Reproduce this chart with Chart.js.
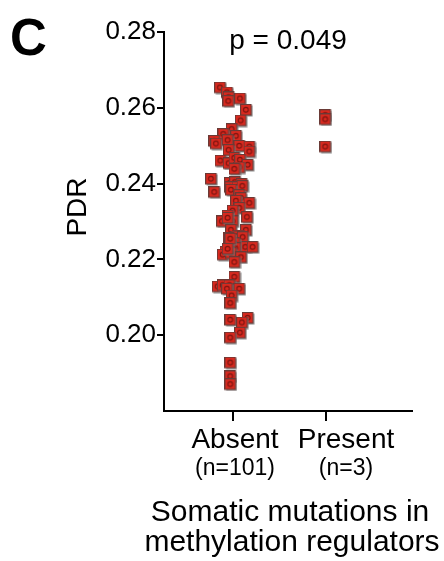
<!DOCTYPE html>
<html><head><meta charset="utf-8">
<script src="https://cdn.jsdelivr.net/npm/chart.js@4.4.1/dist/chart.umd.min.js"></script>
<style>html,body{margin:0;padding:0;background:#fff}#wrap{width:444px;height:561px;position:relative}</style>
</head><body><div id="wrap"><canvas id="c" width="444" height="561"></canvas></div>
<script>
// ---- data ----
const categories = ["Absent", "Present"];
const categoryCounts = ["(n=101)", "(n=3)"];
const yTicks = [0.20, 0.22, 0.24, 0.26, 0.28];
const pValueText = "p = 0.049";
const panelLabel = "C";
const yTitle = "PDR";
const xTitle = ["Somatic mutations in", "methylation regulators"];

const absentPDR = [0.2652,0.2639,0.2626,0.2616,0.2623,0.2593,0.2565,0.2542,0.2529,0.2524,
  0.2511,0.2504,0.2513,0.2498,0.2496,0.2483,0.2487,0.2459,0.2452,0.2466,
  0.2461,0.2448,0.2441,0.2437,0.2411,0.2400,0.2402,0.2397,0.2389,0.2389,
  0.2392,0.2376,0.2382,0.2368,0.2360,0.2353,0.2347,0.2334,0.2327,0.2314,
  0.2310,0.2299,0.2299,0.2308,0.2276,0.2276,0.2261,0.2259,0.2255,0.2257,
  0.2231,0.2231,0.2241,0.2231,0.2228,0.2218,0.2211,0.2215,0.2204,0.2191,
  0.2152,0.2127,0.2130,0.2130,0.2121,0.2121,0.2103,0.2083,0.2039,0.2044,
  0.2032,0.2005,0.1992,0.1926,0.1890,0.1869,0.2253,0.2226];
const absentJitter = [-0.132,-0.057,-0.040,-0.043,0.083,0.147,0.089,-0.008,-0.097,0.040,
  -0.194,-0.175,-0.051,0.075,0.183,0.183,-0.040,-0.129,-0.040,0.022,
  0.083,0.165,0.075,0.022,-0.229,-0.025,0.029,0.100,-0.022,0.054,
  0.108,-0.194,-0.014,0.075,0.094,0.040,0.183,0.075,0.003,-0.051,
  0.158,-0.111,0.003,-0.051,-0.014,0.147,0.068,0.040,-0.040,0.111,
  0.140,0.218,0.022,-0.022,0.032,-0.075,-0.104,-0.014,0.094,0.022,
  0.022,-0.158,-0.104,-0.032,0.075,-0.057,-0.008,-0.022,-0.022,0.165,
  0.104,0.083,-0.022,-0.022,-0.022,-0.022,-0.022,-0.051];
const presentPDR = [0.2579, 0.2568, 0.2496];
const presentJitter = [0, 0, 0];

// ---- build ----
const pts = [];
absentPDR.forEach((v,i)=>pts.push({x:1+absentJitter[i], y:v}));
presentPDR.forEach((v,i)=>pts.push({x:2+presentJitter[i], y:v}));

// marker: red square with gray shadow and small dark ring
function makeMarker() {
  const c = document.createElement('canvas');
  c.width = 13; c.height = 13;
  const g = c.getContext('2d');
  g.fillStyle = 'rgba(120,120,120,0.85)';
  g.fillRect(1.5, 1.5, 11, 11);
  g.fillStyle = '#d8291f';
  g.fillRect(0.5, 0.5, 10.5, 10.5);
  g.strokeStyle = '#6a3a36';
  g.lineWidth = 1;
  g.strokeRect(0.5, 0.5, 10.5, 10.5);
  g.beginPath();
  g.arc(5.75, 5.75, 2.4, 0, Math.PI*2);
  g.strokeStyle = '#7a1510';
  g.lineWidth = 1.1;
  g.stroke();
  return c;
}
const marker = makeMarker();

const FONT = "'Liberation Sans', Arial, sans-serif";

const textPlugin = {
  id: 'texts',
  afterDraw(chart) {
    const ctx = chart.ctx;
    const xs = chart.scales.x;
    ctx.save();
    ctx.fillStyle = '#000';
    ctx.textBaseline = 'alphabetic';
    ctx.font = "bold 51px " + FONT;
    ctx.textAlign = 'left';
    ctx.fillText(panelLabel, 10, 55);
    ctx.font = "28px " + FONT;
    ctx.textAlign = 'center';
    ctx.fillText(pValueText, 288, 49);
    const labelShift = [2, 20];
    categories.forEach((c,i)=>{
      const px = xs.getPixelForValue(i+1) + labelShift[i];
      ctx.font = "28px " + FONT;
      ctx.fillText(c, px, 448);
      ctx.font = "23px " + FONT;
      ctx.fillText(categoryCounts[i], px, 475);
    });
    ctx.font = "30px " + FONT;
    ctx.fillText(xTitle[0], 290, 521);
    ctx.fillText(xTitle[1], 292, 551);
    ctx.translate(78, 207);
    ctx.rotate(-Math.PI/2);
    ctx.font = "28px " + FONT;
    ctx.textBaseline = 'middle';
    ctx.fillText(yTitle, 0, 0);
    ctx.restore();
  }
};

new Chart(document.getElementById('c'), {
  type: 'scatter',
  data: {
    datasets: [
      { data: pts, pointStyle: marker, pointRadius: 6, pointHoverRadius: 6 }
    ]
  },
  options: {
    responsive: false,
    animation: false,
    events: [],
    layout: { padding: { left: 0, right: 32, top: 32, bottom: 0 } },
    plugins: { legend: { display: false }, tooltip: { enabled: false } },
    scales: {
      x: {
        type: 'linear', min: 0.258, max: 2.925,
        afterBuildTicks(s){ s.ticks = [{value:1},{value:2}]; },
        afterFit(s){ s.height = 150; },
        ticks: { display: false },
        grid: { drawOnChartArea: false, drawTicks: true, tickLength: 10, color: '#000', lineWidth: 2 },
        border: { display: true, color: '#000', width: 2 }
      },
      y: {
        type: 'linear', min: 0.18, max: 0.28,
        afterBuildTicks(s){ s.ticks = yTicks.map(v=>({value:v})); },
        afterFit(s){ s.width = 164; },
        ticks: { color: '#000', padding: 1, font: { family: FONT, size: 26 },
                 callback: v => v.toFixed(2) },
        grid: { drawOnChartArea: false, drawTicks: true, tickLength: 7, color: '#000', lineWidth: 2 },
        border: { display: true, color: '#000', width: 2 }
      }
    }
  },
  plugins: [textPlugin]
});
</script></body></html>
